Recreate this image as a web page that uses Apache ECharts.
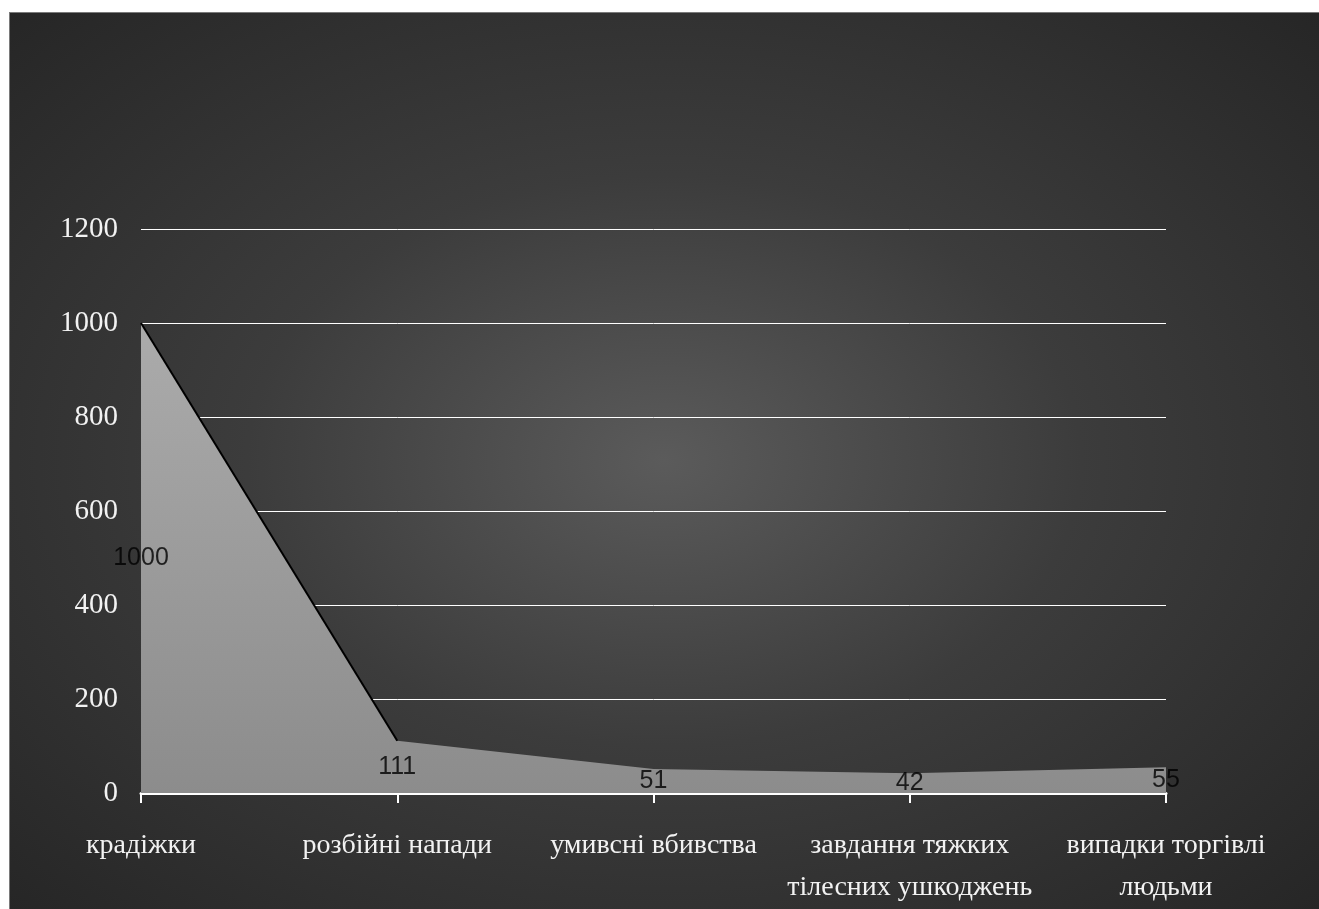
<!DOCTYPE html>
<html>
<head>
<meta charset="utf-8">
<script src="https://cdn.jsdelivr.net/npm/echarts@6/dist/echarts.min.js"></script>
<style>
html,body{margin:0;padding:0;background:#fff;width:1319px;height:909px;overflow:hidden;}
#frame{position:absolute;left:9px;top:12px;width:1310px;height:897px;
background:radial-gradient(ellipse farthest-corner at 50% 50%, #5b5b5b 0%, #3c3c3c 45%, #262626 100%);
box-shadow:inset 1px 1px 0 #7a7a7a;}
#chart{position:absolute;left:0;top:0;width:1310px;height:897px;}
</style>
</head>
<body>
<div id="frame"><div id="chart"></div></div>
<script>
const categories = ['крадіжки', 'розбійні напади', 'умивсні вбивства', 'завдання тяжких\nтілесних ушкоджень', 'випадки торгівлі\nлюдьми'];
const values = [1000, 111, 51, 42, 55];
const yTicks = [0, 200, 400, 600, 800, 1000, 1200];

const chart = echarts.init(document.getElementById('chart'), null, {renderer: 'canvas'});
chart.setOption({
  backgroundColor: 'transparent',
  animation: false,
  grid: {left: 132, right: 153, top: 217, bottom: 111},
  xAxis: {
    type: 'category',
    data: categories,
    boundaryGap: false,
    axisLine: {show: true, lineStyle: {color: '#ffffff', width: 3}},
    axisTick: {show: true, alignWithLabel: true, length: 10, lineStyle: {color: '#ffffff', width: 2}},
    axisLabel: {
      color: '#f2f2f2', fontFamily: 'Liberation Serif', fontSize: 28,
      margin: 32, lineHeight: 42, interval: 0
    },
    splitLine: {show: false}
  },
  yAxis: {
    type: 'value',
    min: yTicks[0], max: yTicks[yTicks.length - 1], interval: 200,
    axisLine: {show: false},
    axisTick: {show: false},
    axisLabel: {color: '#f2f2f2', fontFamily: 'Liberation Serif', fontSize: 29, margin: 23,
      formatter: v => String(v)},
    splitLine: {show: true, lineStyle: {color: '#ffffff', width: 1}}
  },
  series: [
    {
      type: 'line',
      data: values,
      symbol: 'none',
      lineStyle: {width: 0},
      areaStyle: {
        opacity: 1,
        color: new echarts.graphic.LinearGradient(0, 0, 0, 1, [
          {offset: 0, color: '#ababab'},
          {offset: 1, color: '#8c8c8c'}
        ])
      },
      z: 2
    },
    {
      type: 'line',
      data: values.map((v, i) => i < 2 ? v : null),
      symbol: 'none',
      lineStyle: {color: '#000000', width: 2},
      z: 3
    },
    {
      type: 'scatter',
      data: values.map((v, i) => [i, v / 2]),
      symbolSize: 0,
      label: {
        show: true, position: 'inside',
        formatter: p => String(values[p.dataIndex]),
        color: '#000000', fontFamily: 'Liberation Sans', fontSize: 25
      },
      z: 4
    }
  ]
});
</script>
</body>
</html>
